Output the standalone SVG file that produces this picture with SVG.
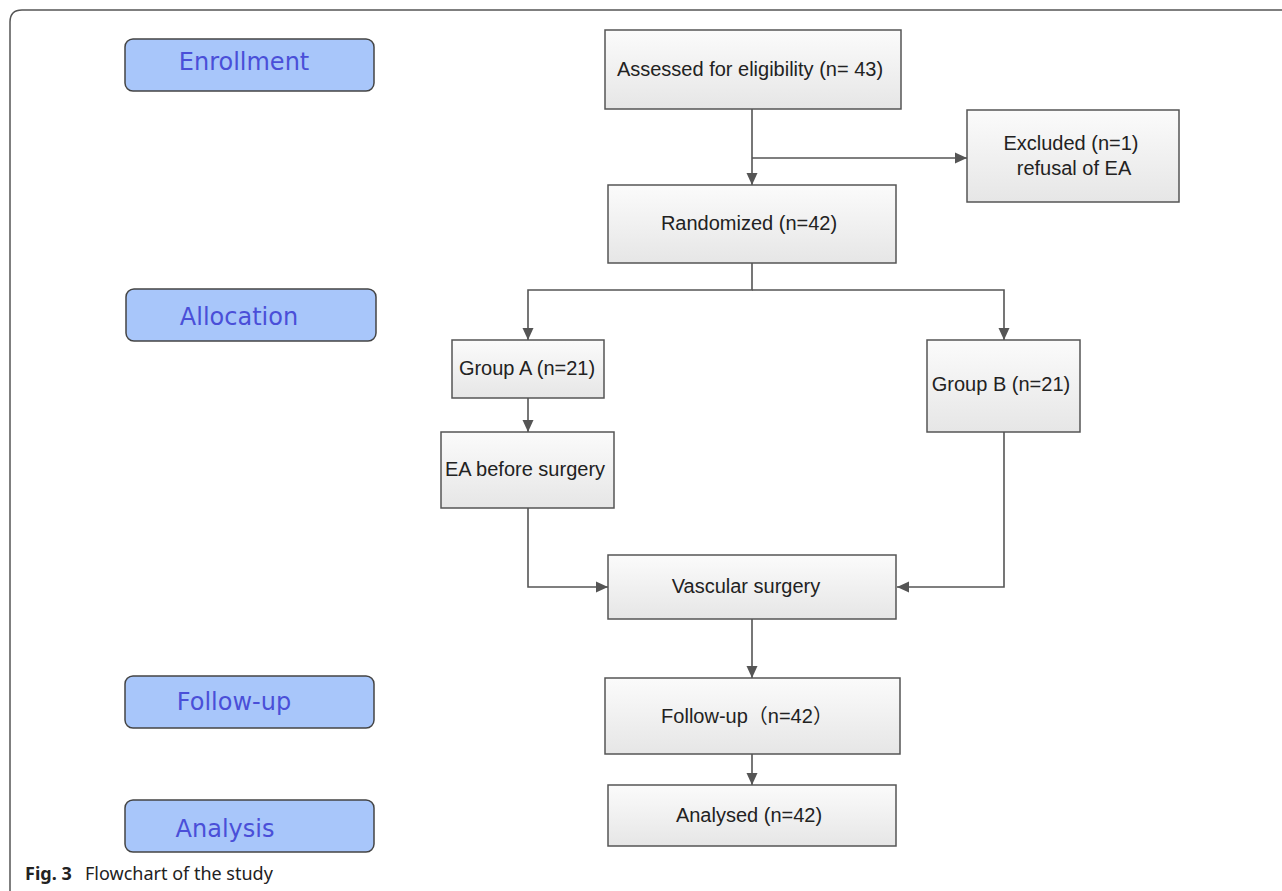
<svg xmlns="http://www.w3.org/2000/svg" width="1282" height="891" viewBox="0 0 1282 891">
<style>
.phase{fill:#a8c6fa;stroke:#444;stroke-width:1.5}
.phase-t{font-family:"DejaVu Sans",Verdana,sans-serif;font-size:24px;fill:#4a4fd8;text-anchor:middle}
.box{fill:url(#g);stroke:#555;stroke-width:1.5}
.box-t{font-family:"Liberation Sans",Arial,sans-serif;font-size:20px;fill:#222;text-anchor:middle}
.conn{fill:none;stroke:#555;stroke-width:1.6}
.cap{font-family:"Noto Sans","Open Sans",sans-serif;font-size:18px;fill:#222}
</style>
<defs>
<linearGradient id="g" x1="0" y1="0" x2="0" y2="1">
<stop offset="0" stop-color="#fbfbfb"/>
<stop offset="1" stop-color="#e6e6e6"/>
</linearGradient>
<marker id="arr" viewBox="0 0 12 12" refX="12" refY="6" markerWidth="12" markerHeight="12" markerUnits="userSpaceOnUse" orient="auto">
<path d="M0,0.5 L12,6 L0,11.5 Z" fill="#555"/>
</marker>
</defs>
<rect width="1282" height="891" fill="#fff"/>
<path d="M10,891 V22 Q10,10 22,10 H1282" fill="none" stroke="#555" stroke-width="1.5"/>

<g id="enrollment"><rect class="phase" x="125" y="39" width="249" height="52" rx="8"/><text class="phase-t" x="244" y="70">Enrollment</text></g>
<g id="allocation"><rect class="phase" x="126" y="289" width="250" height="52" rx="8"/><text class="phase-t" x="239" y="325">Allocation</text></g>
<g id="followup-phase"><rect class="phase" x="125" y="676" width="249" height="52" rx="8"/><text class="phase-t" x="234" y="710">Follow-up</text></g>
<g id="analysis-phase"><rect class="phase" x="125" y="800" width="249" height="52" rx="8"/><text class="phase-t" x="225" y="837">Analysis</text></g>

<g id="connectors">
<path class="conn" d="M752,109 V185" marker-end="url(#arr)"/>
<path class="conn" d="M752,158 H967" marker-end="url(#arr)"/>
<path class="conn" d="M752,263 V290 H528 V340" marker-end="url(#arr)"/>
<path class="conn" d="M752,290 H1004 V340" marker-end="url(#arr)"/>
<path class="conn" d="M528,398 V432" marker-end="url(#arr)"/>
<path class="conn" d="M528,508 V587 H608" marker-end="url(#arr)"/>
<path class="conn" d="M1004,432 V587 H897" marker-end="url(#arr)"/>
<path class="conn" d="M752,619 V678" marker-end="url(#arr)"/>
<path class="conn" d="M752,754 V785" marker-end="url(#arr)"/>
</g>

<g id="assessed"><rect class="box" x="605" y="30" width="296" height="79"/><text class="box-t" x="750" y="76">Assessed for eligibility (n= 43)</text></g>
<g id="excluded"><rect class="box" x="967" y="110" width="212" height="92"/><text class="box-t" x="1071" y="150">Excluded (n=1)</text><text class="box-t" x="1074" y="175">refusal of EA</text></g>
<g id="randomized"><rect class="box" x="608" y="185" width="288" height="78"/><text class="box-t" x="749" y="230">Randomized (n=42)</text></g>
<g id="groupA"><rect class="box" x="452" y="340" width="152" height="58"/><text class="box-t" x="527" y="375">Group A (n=21)</text></g>
<g id="groupB"><rect class="box" x="927" y="340" width="153" height="92"/><text class="box-t" x="1001" y="391">Group B (n=21)</text></g>
<g id="ea"><rect class="box" x="441" y="432" width="173" height="76"/><text class="box-t" x="525" y="476">EA before surgery</text></g>
<g id="vascular"><rect class="box" x="608" y="555" width="288" height="64"/><text class="box-t" x="746" y="593">Vascular surgery</text></g>
<g id="followup"><rect class="box" x="605" y="678" width="295" height="76"/><text class="box-t" x="747" y="723">Follow-up<tspan font-family="'Noto Sans CJK SC',sans-serif">（</tspan>n=42<tspan font-family="'Noto Sans CJK SC',sans-serif">）</tspan></text></g>
<g id="analysed"><rect class="box" x="608" y="785" width="288" height="61"/><text class="box-t" x="749" y="822">Analysed (n=42)</text></g>

<text class="cap" y="880"><tspan x="25" font-weight="bold">Fig. 3</tspan><tspan x="85">Flowchart of the study</tspan></text>
</svg>
